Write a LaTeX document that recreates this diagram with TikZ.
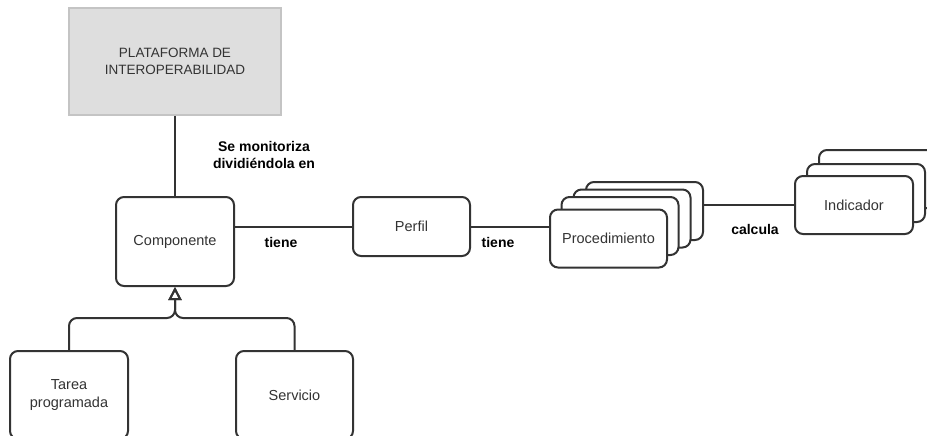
\documentclass[tikz,border=0pt]{standalone}
\usepackage{fontspec}
\setmainfont{Liberation Sans}
\usetikzlibrary{arrows.meta,calc}
\definecolor{ink}{HTML}{333333}
\definecolor{platfill}{HTML}{DEDEDE}
\definecolor{platline}{HTML}{C4C4C4}
\begin{document}
\begin{tikzpicture}[x=1pt,y=-1pt,
  box/.style={draw=ink, line width=2pt, rounded corners=8pt, fill=white,
    text=ink, font=\fontsize{14.5}{18}\selectfont, align=center, inner sep=0pt},
  stackbox/.style={box, minimum width=117pt, minimum height=58pt},
  conn/.style={draw=ink, line width=2pt},
  inherit/.style={conn, rounded corners=8pt,
    -{Triangle[open, width=13pt, length=13pt, line width=2pt]}},
  lbl/.style={font=\bfseries\fontsize{14}{17}\selectfont, align=center,
    inner sep=0pt, text=black}]
\useasboundingbox (0,0) rectangle (927,436);
\clip (0,0) rectangle (927,436);

% platform
\node[draw=platline, fill=platfill, line width=1.5pt, minimum width=212pt,
  minimum height=107pt, text=ink, font=\fontsize{13.5}{17}\selectfont,
  align=center] (plat) at (175,61.5) {PLATAFORMA DE\\INTEROPERABILIDAD};

% component and its subtypes
\node[box, minimum width=118pt, minimum height=89pt] (comp) at (175,241.5) {Componente};
\node[box, minimum width=118pt, minimum height=88pt] (tarea) at (69,395) {Tarea\\programada};
\node[box, minimum width=117pt, minimum height=88pt] (serv) at (294.5,395) {Servicio};

% profile
\node[box, minimum width=117pt, minimum height=59pt] (perfil) at (411.5,226.5) {Perfil};

% procedure stack
\node[stackbox] (proc4) at (644.5,211) {};
\node[stackbox] (proc3) at (632,218.5) {};
\node[stackbox] (proc2) at (620,226) {};
\node[stackbox] (proc) at (608.5,238.5) {Procedimiento};

% indicator stack
\node[stackbox, minimum width=118pt] (ind3) at (878,179) {};
\node[stackbox, minimum width=118pt] (ind2) at (866,193) {};
\node[stackbox, minimum width=118pt] (ind) at (854,205) {Indicador};

% connectors
\draw[conn] (plat.south) -- (comp.north);
\draw[conn] (comp.east |- perfil.west) -- (perfil.west);
\draw[conn] (perfil.east) -- (perfil.east -| proc.west);
\draw[conn] (ind.west -| proc4.east) -- (ind.west);

\coordinate (hub) at (175,318);
\draw[inherit] (tarea.north) |- (hub) -- (comp.south);
\draw[inherit] (serv.north) |- (hub) -- (comp.south);

% labels
\node[lbl] (lmon) at (264,154.5) {Se monitoriza\\dividiéndola en};
\node[lbl] (ltiene1) at (281,242) {tiene};
\node[lbl] (ltiene2) at (498,242) {tiene};
\node[lbl] (lcalc) at (755,229) {calcula};
\end{tikzpicture}
\end{document}
